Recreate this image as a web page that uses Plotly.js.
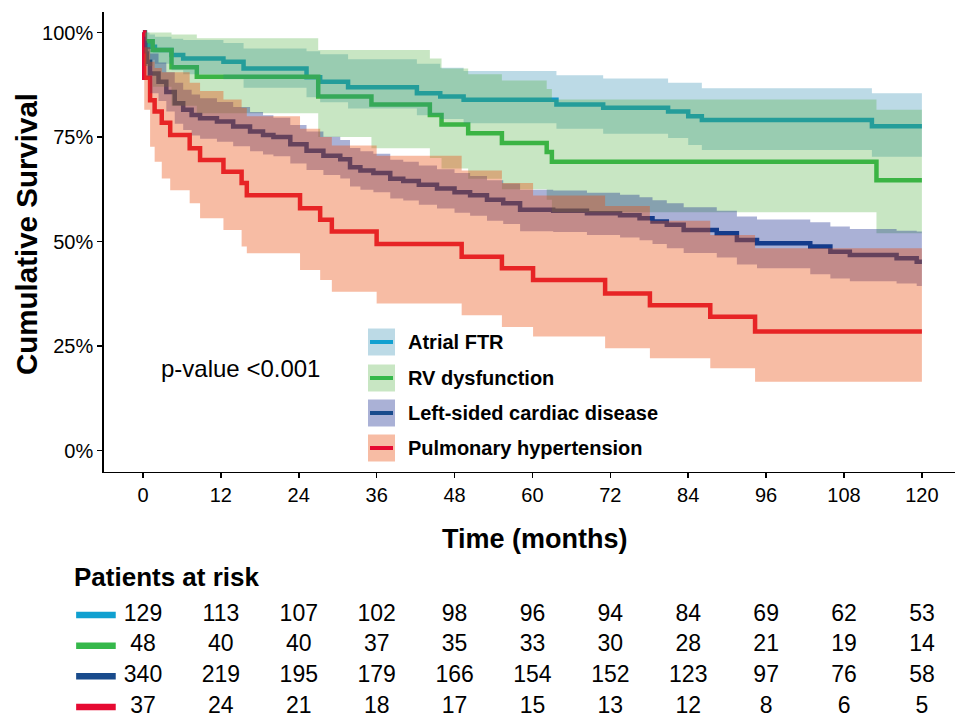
<!DOCTYPE html>
<html>
<head>
<meta charset="utf-8">
<script src="https://cdn.plot.ly/plotly-3.0.1.min.js"></script>
<style>html,body{margin:0;padding:0;background:#fff;}#chart{width:955px;height:719px;}</style>
</head>
<body>
<div id="chart"></div>
<script>
// ---------- data ----------
const groupNames = ['Atrial FTR', 'RV dysfunction', 'Left-sided cardiac disease', 'Pulmonary hypertension'];
const timeTicks = [0, 12, 24, 36, 48, 60, 72, 84, 96, 108, 120];
const survTickVals = [0, 25, 50, 75, 100];
const survTickText = ['0%', '25%', '50%', '75%', '100%'];

const atrialTime  = [0,0.3,1.0,1.85,4.4,6.2,12.4,15.5,25.2,27.3,31.6,42.2,45.8,49.4,63.7,70.9,80.9,84.0,86.1,112.3,120];
const atrialSurv  = [100,97.8,96.6,95.8,94.6,93.8,93.0,91.4,89.3,88.2,86.9,85.5,84.7,83.9,82.8,82.0,81.1,80.0,79.1,77.6,77.6];
const atrialUpper = [100,100,99.5,99.0,98.5,98.2,97.5,96.2,95.5,94.8,93.6,92.5,91.6,90.8,89.8,89.0,88.0,88.0,86.7,85.5,85.5];
const atrialLower = [100,95.3,93.5,92.5,91.0,90.0,88.8,86.8,84.5,83.3,81.8,80.2,79.3,78.3,77.0,75.8,74.8,73.1,71.9,70.3,70.3];

const rvTime  = [0,0.3,1.5,4.4,8.3,27.0,35.2,44.2,46.0,50.1,55.3,62.2,63.0,113.0,120];
const rvSurv  = [100,97.9,95.8,91.7,89.4,84.7,82.8,80.3,78.0,75.9,73.6,71.4,69.1,64.7,64.7];
const rvUpper = [100,100,100,99.5,98.6,95.8,95.8,93.8,91.4,90.0,88.5,86.5,84.0,81.5,81.5];
const rvLower = [100,92.0,87.0,82.5,80.7,75.0,72.3,70.0,67.5,65.0,62.5,60.0,57.0,52.0,52.0];

const leftTime  = [0,0.2,0.4,0.6,1.1,2.4,3.6,4.9,6.2,7.5,8.8,11.4,13.9,16.5,18.5,20.1,22.7,25.2,27.8,30.4,31.9,33.5,35.5,38.1,40.1,42.5,45.3,48.0,50.4,53.0,55.5,58.1,63.2,68.4,73.5,76.5,78.5,80.7,83.3,88.4,91.5,94.6,102.8,105.9,108.9,116.1,119.2,120];
const leftSurv  = [100,97,95,93,90.2,88.2,85.8,83.1,81.5,80.3,79.5,78.7,77.5,76.3,75.5,75.0,73.3,71.7,70.5,69.7,67.8,67.0,66.4,65.0,64.5,63.6,62.7,61.8,61.1,60.0,59.2,57.6,57.4,56.8,56.3,55.6,54.8,54.0,52.8,52.0,50.4,49.6,48.8,47.6,46.8,46.0,45.2,45.2];
const leftUpper = [100,99,98,96.5,95,92.8,90.5,88,86.3,85.2,84.3,83.4,82.2,81.0,80.2,79.6,77.9,76.3,75.1,74.3,72.4,71.6,71.0,69.6,69.1,68.2,67.3,66.4,65.7,64.7,63.9,62.4,62.2,61.7,61.2,60.6,59.9,59.2,58.2,57.4,56.0,55.3,54.6,53.6,53.0,52.6,52.4,52.4];
const leftLower = [100,95,92,89.5,85.5,83.6,81.1,78.2,76.7,75.4,74.6,73.9,72.8,71.6,70.8,70.4,68.7,67.1,65.9,65.1,63.2,62.4,61.8,60.3,59.8,58.8,57.9,56.9,56.2,55.0,54.2,52.5,52.3,51.6,51.0,50.3,49.4,48.4,47.3,46.2,44.5,43.6,42.2,41.2,40.5,40.0,39.4,39.4];

const phTime  = [0,0.2,1.1,1.8,2.9,4.2,7.2,8.8,12.4,15.2,16.0,24.2,27.3,29.1,36.0,49.1,55.3,60.1,71.2,78.1,87.4,94.3,120];
const phSurv  = [100,89.2,83.8,81.1,78.4,75.5,72.3,69.5,66.7,64.0,61.1,58.0,55.2,52.4,49.4,46.4,43.6,40.8,37.6,34.8,32.0,28.5,28.5];
const phUpper = [100,96.5,93,91.5,90.5,90.5,88,86,84,82,80,77,75,73,70.5,67,64,61,58.5,55,51.6,48.4,48.4];
const phLower = [100,81.5,72.7,69.1,65.1,62.3,59.2,55.6,52.8,48.8,47.2,43.2,40.8,38.0,35.2,32.4,29.6,27.3,24.5,22.1,19.7,16.5,16.5];

const riskAtrial = [129,113,107,102,98,96,94,84,69,62,53];
const riskRV     = [48,40,40,37,35,33,30,28,21,19,14];
const riskLeft   = [340,219,195,179,166,154,152,123,97,76,58];
const riskPH     = [37,24,21,18,17,15,13,12,8,6,5];

// ---------- styles ----------
const lineColors = ['#10a0d0', '#35b84a', '#194b8c', '#e60a32'];
const ribbonColors = ['rgba(32,132,172,0.30)', 'rgba(72,172,55,0.30)', 'rgba(12,32,138,0.35)', 'rgba(234,79,15,0.38)'];
const FONT = 'Liberation Sans, Arial, Helvetica, sans-serif';

const series = [
  {t: atrialTime, s: atrialSurv, u: atrialUpper, l: atrialLower},
  {t: rvTime, s: rvSurv, u: rvUpper, l: rvLower},
  {t: leftTime, s: leftSurv, u: leftUpper, l: leftLower},
  {t: phTime, s: phSurv, u: phUpper, l: phLower}
];
const riskRows = [riskAtrial, riskRV, riskLeft, riskPH];

const traces = [];
// survival step lines (drawn first so ribbons tint them, as in the original)
series.forEach((d, i) => {
  traces.push({
    type: 'scatter', mode: 'lines', x: d.t, y: d.s, name: groupNames[i],
    line: {color: lineColors[i], width: 4.5, shape: 'hv'},
    xaxis: 'x', yaxis: 'y', showlegend: false, hoverinfo: 'skip'
  });
});
// confidence ribbons
series.forEach((d, i) => {
  traces.push({
    type: 'scatter', mode: 'lines', x: d.t, y: d.l,
    line: {width: 0, shape: 'hv', color: 'rgba(0,0,0,0)'},
    xaxis: 'x', yaxis: 'y', showlegend: false, hoverinfo: 'skip'
  });
  traces.push({
    type: 'scatter', mode: 'lines', x: d.t, y: d.u, fill: 'tonexty',
    fillcolor: ribbonColors[i],
    line: {width: 0, shape: 'hv', color: 'rgba(0,0,0,0)'},
    xaxis: 'x', yaxis: 'y', showlegend: false, hoverinfo: 'skip'
  });
});
// risk table
riskRows.forEach((row, i) => {
  traces.push({
    type: 'scatter', mode: 'text', x: timeTicks, y: timeTicks.map(() => i),
    text: row.map(String), textposition: 'middle center',
    textfont: {family: FONT, size: 23, color: '#000'},
    xaxis: 'x2', yaxis: 'y2', showlegend: false, hoverinfo: 'skip'
  });
});

const W = 955, H = 719;
const plotLeft = 104, plotTop = 11.6, plotBottom = 471.6;
const shapes = [];
const annotations = [];

// risk table colour keys
riskRows.forEach((row, i) => {
  shapes.push({type: 'line', xref: 'x2', yref: 'y2', x0: -10.3, x1: -4.2, y0: i, y1: i,
    line: {color: lineColors[i], width: 6.5}});
});

// in-plot legend
const keyRowsPx = [342, 378, 413, 448];
groupNames.forEach((name, i) => {
  const yc = (H - keyRowsPx[i]) / H;
  const hh = 13.5 / H;
  shapes.push({type: 'rect', xref: 'paper', yref: 'paper', x0: 368 / W, x1: 395 / W, y0: yc - hh, y1: yc + hh,
    fillcolor: ribbonColors[i], line: {width: 0}});
  shapes.push({type: 'line', xref: 'paper', yref: 'paper', x0: 370 / W, x1: 393 / W, y0: yc, y1: yc,
    line: {color: lineColors[i], width: 4}});
  annotations.push({xref: 'paper', yref: 'paper', x: 406 / W, y: yc, xanchor: 'left', yanchor: 'middle',
    text: name, showarrow: false, font: {family: FONT, size: 20, color: '#000', weight: 'bold'}});
});

annotations.push({xref: 'paper', yref: 'paper', x: 159 / W, y: (H - 368) / H, xanchor: 'left', yanchor: 'middle',
  text: 'p-value &lt;0.001', showarrow: false, font: {family: FONT, size: 24, color: '#000'}});
annotations.push({xref: 'paper', yref: 'paper', x: 26 / W, y: (H - 234) / H, xanchor: 'center', yanchor: 'middle',
  text: 'Cumulative Survival', textangle: -90, showarrow: false, font: {family: FONT, size: 29.5, color: '#000', weight: 'bold'}});
annotations.push({xref: 'paper', yref: 'paper', x: 535 / W, y: (H - 539) / H, xanchor: 'center', yanchor: 'middle',
  text: 'Time (months)', showarrow: false, font: {family: FONT, size: 27, color: '#000', weight: 'bold'}});
annotations.push({xref: 'paper', yref: 'paper', x: 72 / W, y: (H - 577) / H, xanchor: 'left', yanchor: 'middle',
  text: 'Patients at risk', showarrow: false, font: {family: FONT, size: 26, color: '#000', weight: 'bold'}});

const pxPerMonth = (W - plotLeft) / (125.1 + 6);
const layout = {
  width: W, height: H,
  margin: {l: 0, r: 0, t: 0, b: 0},
  paper_bgcolor: '#fff', plot_bgcolor: '#fff',
  font: {family: FONT, color: '#000'},
  showlegend: false,
  xaxis: {
    domain: [plotLeft / W, 1], range: [-6, 125.1], anchor: 'y',
    tickmode: 'array', tickvals: timeTicks, ticktext: timeTicks.map(String),
    ticks: 'outside', ticklen: 5, tickwidth: 1.6, tickcolor: '#000',
    showline: true, linecolor: '#000', linewidth: 1.8, mirror: false,
    showgrid: false, zeroline: false,
    tickfont: {family: FONT, size: 20, color: '#000'}
  },
  yaxis: {
    domain: [(H - plotBottom) / H, (H - plotTop) / H], range: [-5, 105], anchor: 'x',
    tickmode: 'array', tickvals: survTickVals, ticktext: survTickText,
    ticks: 'outside', ticklen: 5, tickwidth: 1.6, tickcolor: '#000',
    showline: true, linecolor: '#000', linewidth: 1.8,
    showgrid: false, zeroline: false,
    tickfont: {family: FONT, size: 20, color: '#000'}
  },
  xaxis2: {
    domain: [0, 1], range: [-143 / pxPerMonth, (W - 143) / pxPerMonth], anchor: 'y2',
    visible: false, showgrid: false, zeroline: false
  },
  yaxis2: {
    domain: [0, (H - 583) / H], range: [3.391, -1.043], anchor: 'x2',
    visible: false, showgrid: false, zeroline: false
  },
  shapes: shapes,
  annotations: annotations
};

Plotly.newPlot('chart', traces, layout, {staticPlot: true, displayModeBar: false});
</script>
</body>
</html>
